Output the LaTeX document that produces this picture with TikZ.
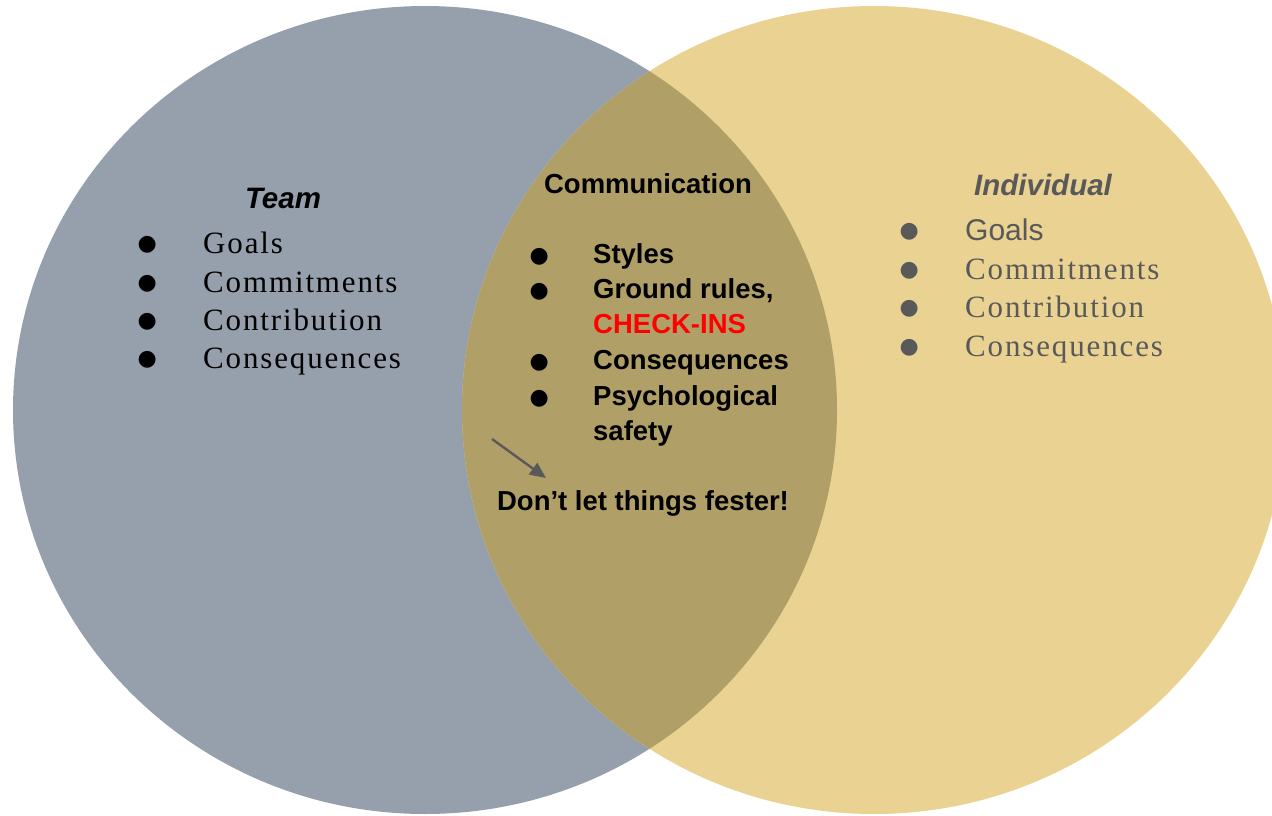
\documentclass[tikz,border=0pt]{standalone}
\usepackage{fontspec}
\setmainfont{Liberation Sans}
\newfontfamily\sansf{Liberation Sans}
\newfontfamily\serifsp[LetterSpace=6]{Liberation Serif}
\newfontfamily\dejavu{DejaVu Sans}
\usetikzlibrary{arrows.meta}
\definecolor{teamfill}{HTML}{96A0AC}
\definecolor{indfill}{HTML}{E9D292}
\definecolor{lensfill}{HTML}{B19F68}
\definecolor{graytext}{HTML}{595959}
\definecolor{checkred}{HTML}{FF0000}
\newcommand{\fsz}[1]{\fontsize{#1}{#1}\selectfont}
\newcommand{\bul}[1]{\makebox[0pt]{\raisebox{#1}{\dejavu\fsz{22}●}}}
\tikzset{
  txt/.style={inner sep=0pt, anchor=base west},
  title/.style={inner sep=0pt, anchor=base, font=\sansf\bfseries\itshape\fsz{29.5}},
  seritem/.style={txt, font=\serifsp\fsz{31}},
  sansitem/.style={txt, font=\sansf\fsz{30}},
  centitle/.style={inner sep=0pt, anchor=base, font=\sansf\bfseries\fsz{27.5}},
  cenitem/.style={txt, font=\sansf\bfseries\fsz{27.5}},
  arr/.style={draw=graytext, line width=2.4pt, -{Triangle[length=16pt,width=14pt]}}
}
\begin{document}
\begin{tikzpicture}[x=1pt,y=-1pt]
\useasboundingbox (0,0) rectangle (1272,816);
\begin{scope}
\clip (0,0) rectangle (1272,816);
\fill[teamfill] (425,410) ellipse [x radius=412, y radius=404];
\fill[indfill] (874,410) ellipse [x radius=412, y radius=404];
\clip (425,410) ellipse [x radius=412, y radius=404];
\fill[lensfill] (874,410) ellipse [x radius=412, y radius=404];
\end{scope}

% Team
\node[title] (team) at (283,208) {Team};
\node[seritem] (t1) at (147,253) {\bul{2.5pt}\hspace{56pt}Goals};
\node[seritem] (t2) at (147,292) {\bul{2.5pt}\hspace{56pt}Commitments};
\node[seritem] (t3) at (147,330) {\bul{2.5pt}\hspace{56pt}Contribution};
\node[seritem] (t4) at (147,368) {\bul{2.5pt}\hspace{56pt}Consequences};

% Individual
\node[title, text=graytext] (ind) at (1043,195) {Individual};
\node[sansitem, text=graytext] (i1) at (909,240) {\bul{2.5pt}\hspace{56pt}Goals};
\node[seritem, text=graytext] (i2) at (909,279) {\bul{2.5pt}\hspace{56pt}Commitments};
\node[seritem, text=graytext] (i3) at (909,317) {\bul{2.5pt}\hspace{56pt}Contribution};
\node[seritem, text=graytext] (i4) at (909,356) {\bul{2.5pt}\hspace{56pt}Consequences};

% Communication
\node[centitle] (comm) at (648,193) {Communication};
\node[cenitem] (c1) at (539,263) {\bul{1pt}\hspace{54pt}Styles};
\node[cenitem] (c2) at (539,298) {\bul{1pt}\hspace{54pt}Ground rules,};
\node[cenitem, text=checkred] (c2b) at (593,333) {CHECK-INS};
\node[cenitem] (c3) at (539,369) {\bul{1pt}\hspace{54pt}Consequences};
\node[cenitem] (c4) at (539,405) {\bul{1pt}\hspace{54pt}Psychological};
\node[cenitem] (c4b) at (593,440) {safety};
\node[inner sep=0pt, anchor=base, font=\sansf\bfseries\fsz{27.5}] (fester) at (643,510) {Don’t let things fester!};

\coordinate (a0) at (492,439);
\coordinate (a1) at (546,478);
\draw[arr] (a0) -- (a1);
\end{tikzpicture}
\end{document}
